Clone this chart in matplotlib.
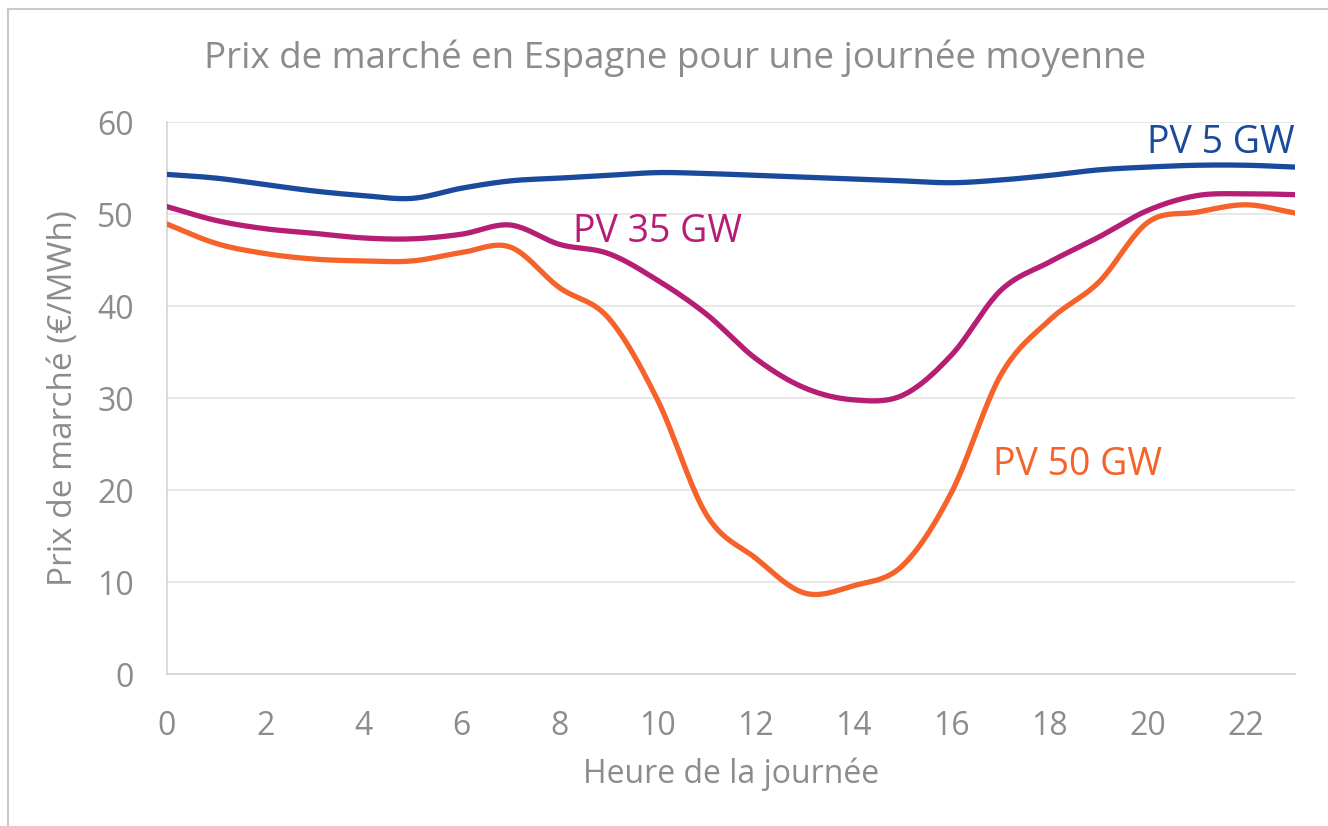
"""Prix de marché en Espagne pour une journée moyenne (3 scénarios PV)."""

import numpy as np
import matplotlib.pyplot as plt
from matplotlib.lines import Line2D

hours = list(range(24))

pv5 = [54.3, 53.9, 53.2, 52.5, 52.0, 51.7, 52.8, 53.6, 53.9, 54.2, 54.5, 54.4,
       54.2, 54.0, 53.8, 53.6, 53.4, 53.7, 54.2, 54.8, 55.1, 55.3, 55.3, 55.1]
pv35 = [50.8, 49.3, 48.4, 47.9, 47.4, 47.3, 47.8, 48.8, 46.7, 45.7, 42.8, 39.1,
        34.3, 31.1, 29.8, 30.3, 34.7, 41.7, 44.8, 47.5, 50.4, 52.0, 52.2, 52.1]
pv50 = [48.9, 46.8, 45.7, 45.1, 44.9, 44.9, 45.8, 46.4, 42.0, 38.7, 29.8, 17.3,
        12.6, 8.8, 9.6, 11.8, 19.8, 32.5, 38.5, 42.6, 49.1, 50.2, 51.0, 50.1]

series_labels = ["PV 5 GW", "PV 35 GW", "PV 50 GW"]
colors = ["#1A4A9B", "#B51E74", "#F5622A"]

title = "Prix de marché en Espagne pour une journée moyenne"
xlabel = "Heure de la journée"
ylabel = "Prix de marché (€/MWh)"

GREY = "#8C8C8C"
plt.rcParams["font.family"] = ["Open Sans", "DejaVu Sans"]


def smooth(x, y, n=20):
    # Catmull-Rom curve through the points, like Excel's smoothed lines
    x = np.asarray(x, float)
    y = np.asarray(y, float)
    px = np.concatenate([[2 * x[0] - x[1]], x, [2 * x[-1] - x[-2]]])
    py = np.concatenate([[2 * y[0] - y[1]], y, [2 * y[-1] - y[-2]]])
    t = np.linspace(0, 1, n, endpoint=False)
    xs, ys = [], []
    for i in range(1, len(px) - 2):
        for arr, out in ((px, xs), (py, ys)):
            p0, p1, p2, p3 = arr[i - 1], arr[i], arr[i + 1], arr[i + 2]
            out.extend(0.5 * (2 * p1 + (-p0 + p2) * t
                              + (2 * p0 - 5 * p1 + 4 * p2 - p3) * t ** 2
                              + (-p0 + 3 * p1 - 3 * p2 + p3) * t ** 3))
    xs.append(x[-1])
    ys.append(y[-1])
    return xs, ys


fig = plt.figure(figsize=(13.28, 8.26), dpi=100)
ax = fig.add_axes([0.1258, 0.184, 0.8494, 0.6683])

for vals, col in zip([pv5, pv35, pv50], colors):
    sx, sy = smooth(hours, vals)
    ax.plot(sx, sy, color=col, lw=3.8, solid_capstyle="round", zorder=3)

ax.set_xlim(0, 23)
ax.set_ylim(0, 60)
ax.set_xticks(range(0, 23, 2))
ax.set_yticks(range(0, 61, 10))
ax.grid(axis="y", color="#E3E3E3", lw=1.2, zorder=0)
ax.set_axisbelow(True)
for s in ["top", "right"]:
    ax.spines[s].set_visible(False)
for s in ["left", "bottom"]:
    ax.spines[s].set_color("#D4D4D4")
    ax.spines[s].set_linewidth(1.2)
ax.tick_params(length=0, labelsize=23, colors=GREY)
ax.tick_params(axis="x", pad=26)
ax.tick_params(axis="y", pad=24)

ax.set_xlabel(xlabel, fontsize=23, color=GREY, labelpad=10)
ax.set_ylabel(ylabel, fontsize=24, color=GREY, labelpad=12)
fig.text(0.508, 0.93, title, ha="center", va="center", fontsize=26.5, color=GREY)

ax.text(23, 55.6, series_labels[0], color=colors[0], fontsize=27,
        ha="right", va="bottom")
ax.text(8.28, 48.0, series_labels[1], color=colors[1], fontsize=27,
        ha="left", va="center")
ax.text(16.85, 22.7, series_labels[2], color=colors[2], fontsize=27,
        ha="left", va="center")

# chart frame from the source page (top and left edges only)
fig.add_artist(Line2D([0.006, 1.0], [0.989, 0.989], color="#C8C8C8", lw=1.5))
fig.add_artist(Line2D([0.006, 0.006], [0.0, 0.989], color="#C8C8C8", lw=1.5))

fig.savefig("out.png", dpi=100, facecolor="white")
